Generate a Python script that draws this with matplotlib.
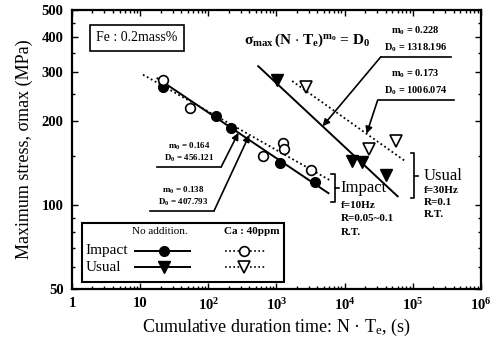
import numpy as np
import matplotlib.pyplot as plt
from matplotlib.patches import Rectangle
from matplotlib.ticker import FixedLocator, FixedFormatter, LogLocator, NullFormatter

plt.rcParams['font.family'] = 'Liberation Serif'
plt.rcParams['mathtext.fontset'] = 'custom'
plt.rcParams['mathtext.rm'] = 'Liberation Serif'
plt.rcParams['mathtext.it'] = 'Liberation Serif:italic'
plt.rcParams['mathtext.bf'] = 'Liberation Serif:bold'
plt.rcParams['mathtext.default'] = 'regular'

# measured points: cumulative duration time (s) vs max stress (MPa)
imp_no_t = [21.8, 131, 218, 1145, 3620]
imp_no_s = [264, 209, 188, 141, 121]
imp_ca_t = [21.8, 54.4, 644, 1268, 1310, 3160]
imp_ca_s = [280, 222, 150, 167, 158, 133]
usu_no_t = [1035, 12680, 17800, 40100]
usu_no_s = [280, 144, 142, 128]
usu_ca_t = [2670, 22500, 56200]
usu_ca_s = [264, 159, 170]

# fitted lines sigma * t^m0 = D0
fit_names = ['imp_no', 'imp_ca', 'usu_no', 'usu_ca']
fit_m0 = [0.164, 0.138, 0.228, 0.173]
fit_D0 = [456.121, 407.793, 1318.196, 1006.074]
fit_tmin = [18, 11, 540, 1700]
fit_tmax = [5800, 6300, 60000, 79000]
fit_ls = ['-', ':', '-', ':']

xticks = [1, 10, 1e2, 1e3, 1e4, 1e5, 1e6]
xticklabels = ['1', '10', '$10^2$', '$10^3$', '$10^4$', '$10^5$', '$10^6$']
yticks = [50, 100, 200, 300, 400, 500]


def fit(i, t):
    return fit_D0[i] * np.asarray(t, dtype=float) ** (-fit_m0[i])


fig = plt.figure(figsize=(5.03, 3.51), dpi=100)
ax = fig.add_axes([0.1431, 0.177, 0.813, 0.795])
ax.set_xscale('log')
ax.set_yscale('log')
ax.set_xlim(1, 1e6)
ax.set_ylim(50, 500)

for i in range(4):
    t = np.logspace(np.log10(fit_tmin[i]), np.log10(fit_tmax[i]), 50)
    if fit_ls[i] == '-':
        ax.plot(t, fit(i, t), color='k', lw=1.4, ls='-')
    else:
        ax.plot(t, fit(i, t), color='k', lw=1.3, ls=(0, (1, 1.5)))

ms = 7
ax.plot(imp_no_t, imp_no_s, 'o', color='k', ms=ms, zorder=3)
ax.plot(imp_ca_t, imp_ca_s, 'o', mfc='white', mec='k', mew=1.2, ms=ms, zorder=3)
ax.plot(usu_no_t, usu_no_s, 'v', color='k', ms=ms + 1, zorder=3)
ax.plot(usu_ca_t, usu_ca_s, 'v', mfc='white', mec='k', mew=1.2, ms=ms + 1, zorder=3)

# axes styling
for sp in ax.spines.values():
    sp.set_linewidth(1.6)
ax.xaxis.set_major_locator(FixedLocator(xticks))
ax.xaxis.set_major_formatter(FixedFormatter(xticklabels))
ax.xaxis.set_minor_locator(LogLocator(base=10, subs=np.arange(2, 10)))
ax.xaxis.set_minor_formatter(NullFormatter())
ax.yaxis.set_major_locator(FixedLocator(yticks))
ax.yaxis.set_major_formatter(FixedFormatter([str(v) for v in yticks]))
ax.yaxis.set_minor_locator(FixedLocator([60, 70, 80, 90, 150, 250, 350, 450]))
ax.yaxis.set_minor_formatter(NullFormatter())
ax.tick_params(which='both', direction='in', top=True, right=True, width=1.0)
ax.tick_params(which='major', length=4, labelsize=10.5, pad=6)
ax.tick_params(which='minor', length=2.5)
for lab in ax.get_xticklabels() + ax.get_yticklabels():
    lab.set_fontweight('bold')

ax.set_xlabel('Cumulative duration time: N \u00b7 T$_e$, (s)', fontsize=13, labelpad=3)
ax.set_ylabel('Maximum stress, \u03c3max (MPa)', fontsize=13, labelpad=6)

# text box and equation
ax.text(9.0, 397, 'Fe : 0.2mass%', fontsize=10, ha='center', va='center',
        bbox=dict(boxstyle='square,pad=0.45', fc='white', ec='k', lw=1.2))
ax.text(2860, 390, r'$\sigma_{max}\,$(N $\cdot$ T$_e$)$^{m_0}$ = D$_0$',
        fontsize=11, fontweight='bold', ha='center', va='center')


def label_arrow(i, txt_x, line_y, under_x0, under_x1, tip_t, fs, lsp, side):
    ax.plot([under_x0, under_x1], [line_y, line_y], color='k', lw=1.2)
    start_x = under_x0 if side == 'left' else under_x1
    ax.annotate('', xy=(tip_t, fit(i, tip_t)), xytext=(start_x, line_y),
                arrowprops=dict(arrowstyle='-|>', color='k', lw=1.2,
                                mutation_scale=10, shrinkA=0, shrinkB=0))
    ax.text(txt_x, line_y * 1.025,
            'm$_0$ = %.3f\nD$_0$ = %.3f' % (fit_m0[i], fit_D0[i]),
            fontsize=fs, fontweight='bold', ha='center', va='bottom',
            linespacing=lsp)


label_arrow(2, 1.1e5, 339, 33900, 363000, 4750, 7.5, 1.5, 'left')
label_arrow(3, 1.1e5, 237, 30500, 400000, 21000, 7.5, 1.5, 'left')
label_arrow(0, 52, 137, 17.8, 155, 277, 6.5, 1.05, 'right')
label_arrow(1, 43, 95.4, 14, 122, 401, 6.5, 1.05, 'right')


def brace(x0, x1, ytop, ybot):
    ym = np.sqrt(ytop * ybot)
    xm = np.sqrt(x0 * x1)
    ax.plot([x0, xm, xm, x1], [ytop, ytop, ym, ym], color='k', lw=1.2)
    ax.plot([x0, xm, xm], [ybot, ybot, ym], color='k', lw=1.2)


brace(6220, 8160, 129, 102)
ax.text(8730, 115.4, 'Impact', fontsize=12, ha='left', va='center')
ax.text(8730, 99.5, 'f=10Hz', fontsize=8, fontweight='bold', ha='left', va='center')
ax.text(8730, 89.3, 'R=0.05~0.1', fontsize=8, fontweight='bold', ha='left', va='center')
ax.text(8730, 79.5, 'R.T.', fontsize=8, fontweight='bold', ha='left', va='center')

brace(93600, 118000, 153, 106)
ax.text(145000, 126.4, 'Usual', fontsize=12, ha='left', va='center')
ax.text(145000, 112.6, 'f=30Hz', fontsize=8, fontweight='bold', ha='left', va='center')
ax.text(145000, 101.9, 'R=0.1', fontsize=8, fontweight='bold', ha='left', va='center')
ax.text(145000, 92.3, 'R.T.', fontsize=8, fontweight='bold', ha='left', va='center')

# legend drawn by hand inside the axes
tr = ax.transAxes
ax.add_patch(Rectangle((0.024, 0.025), 0.494, 0.21, transform=tr,
                       fc='white', ec='k', lw=1.5, zorder=4))
ax.text(0.215, 0.204, 'No addition.', transform=tr, fontsize=8, ha='center',
        va='center', zorder=5)
ax.text(0.44, 0.204, 'Ca : 40ppm', transform=tr, fontsize=8, fontweight='bold',
        ha='center', va='center', zorder=5)
ax.text(0.034, 0.136, 'Impact', transform=tr, fontsize=11, ha='left', va='center', zorder=5)
ax.text(0.034, 0.078, 'Usual', transform=tr, fontsize=11, ha='left', va='center', zorder=5)
for yy, mk in [(0.136, 'o'), (0.078, 'v')]:
    ax.plot([0.155, 0.289], [yy, yy], color='k', lw=1.4, transform=tr, zorder=5)
    ax.plot([0.225], [yy], mk, color='k', ms=ms if mk == 'o' else ms + 1,
            transform=tr, zorder=6)
    ax.plot([0.374, 0.472], [yy, yy], color='k', lw=1.2, ls=(0, (1, 1.5)),
            transform=tr, zorder=5)
    ax.plot([0.42], [yy], mk, mfc='white', mec='k', mew=1.2,
            ms=ms if mk == 'o' else ms + 1, transform=tr, zorder=6)

fig.savefig('out.png', dpi=100)
